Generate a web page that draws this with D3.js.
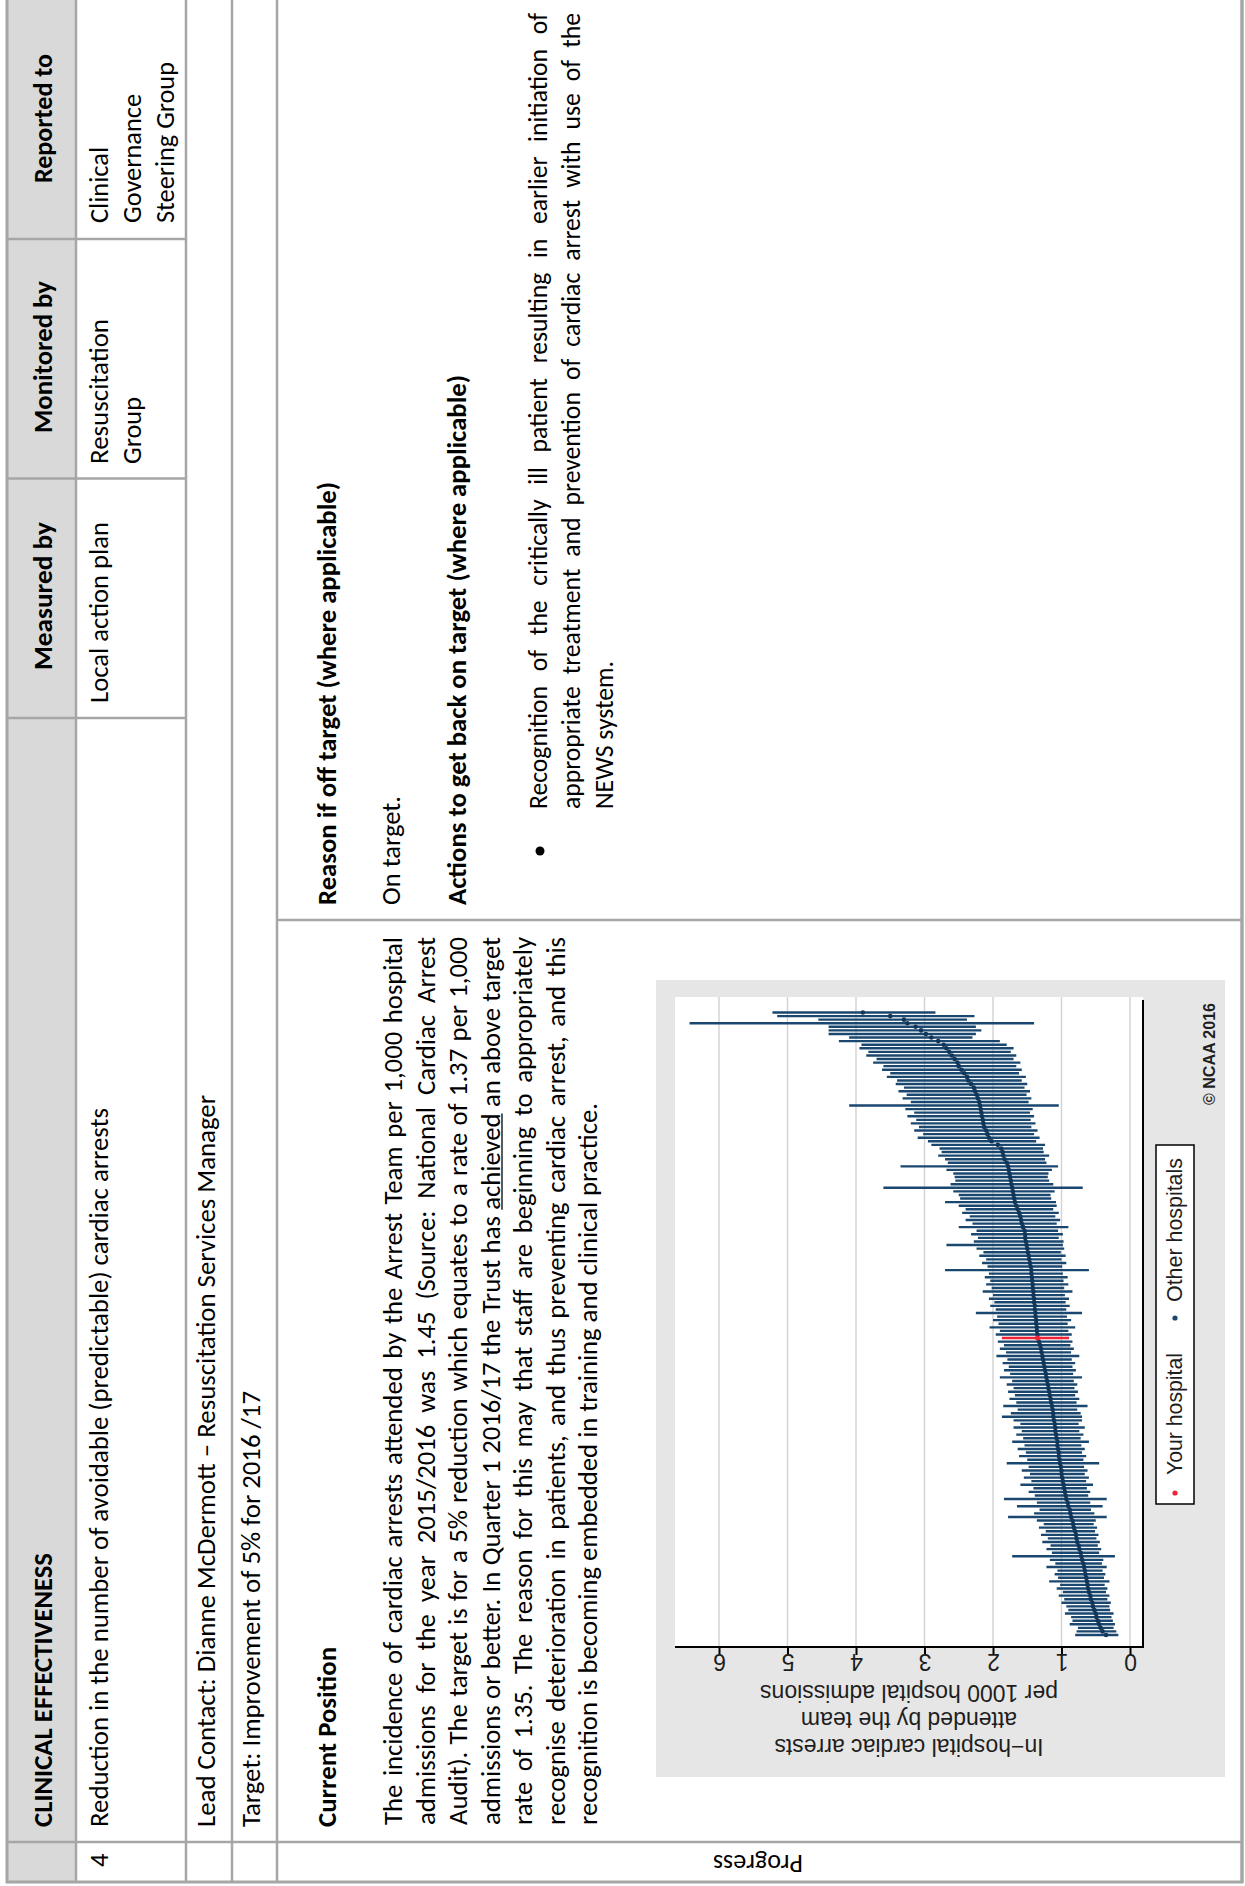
<!DOCTYPE html>
<html>
<head>
<meta charset="utf-8">
<script src="https://cdn.jsdelivr.net/npm/d3@7"></script>
<style>
  html, body { margin: 0; padding: 0; background: #fff; }
  svg { display: block; }
</style>
</head>
<body>
<svg id="page" width="1245" height="1886"></svg>
<script>
// ---- Caterpillar data: hospitals ranked by rate (per 1000 admissions) with 95% CI ----
const rate = [
  0.35,0.40,0.43,0.45,0.47,0.49,0.50,0.52,0.54,0.55,
  0.57,0.58,0.60,0.61,0.62,0.63,0.64,0.65,0.66,0.67,
  0.68,0.70,0.71,0.72,0.74,0.75,0.77,0.78,0.79,0.80,
  0.82,0.83,0.84,0.86,0.87,0.88,0.90,0.91,0.93,0.94,
  0.95,0.96,0.97,0.98,0.99,1.00,1.00,1.01,1.02,1.03,
  1.04,1.04,1.05,1.06,1.06,1.07,1.08,1.09,1.09,1.10,
  1.11,1.12,1.12,1.13,1.14,1.15,1.16,1.17,1.18,1.19,
  1.20,1.21,1.22,1.23,1.24,1.25,1.26,1.27,1.28,1.29,
  1.30,1.31,1.33,1.35,1.35,1.36,1.36,1.37,1.37,1.38,
  1.38,1.39,1.39,1.40,1.40,1.41,1.41,1.42,1.42,1.43,
  1.43,1.44,1.44,1.45,1.46,1.47,1.48,1.49,1.50,1.51,
  1.52,1.53,1.53,1.54,1.56,1.58,1.59,1.60,1.62,1.64,
  1.66,1.68,1.69,1.70,1.71,1.72,1.73,1.74,1.75,1.76,
  1.77,1.78,1.80,1.83,1.85,1.86,1.88,1.93,2.02,2.06,
  2.08,2.10,2.13,2.14,2.15,2.16,2.17,2.18,2.19,2.20,
  2.22,2.24,2.26,2.28,2.32,2.36,2.38,2.42,2.46,2.50,
  2.52,2.56,2.60,2.64,2.68,2.72,2.80,2.90,2.98,3.05,
  3.13,3.25,3.30,3.50,3.90
];
const lower = [
  0.17,0.20,0.24,0.22,0.25,0.27,0.24,0.29,0.30,0.28,
  0.33,0.30,0.35,0.33,0.37,0.30,0.38,0.36,0.40,0.34,
  0.41,0.39,0.22,0.45,0.42,0.47,0.44,0.49,0.46,0.51,
  0.48,0.53,0.50,0.34,0.52,0.57,0.40,0.58,0.34,0.61,
  0.58,0.63,0.54,0.64,0.60,0.66,0.62,0.67,0.45,0.68,
  0.64,0.70,0.66,0.71,0.60,0.72,0.68,0.74,0.66,0.75,
  0.70,0.70,0.72,0.77,0.62,0.78,0.74,0.80,0.76,0.81,
  0.77,0.82,0.70,0.83,0.79,0.84,0.80,0.85,0.74,0.86,
  0.82,0.87,0.84,0.89,0.85,0.90,0.80,0.91,0.86,0.92,
  0.70,0.93,0.88,0.94,0.89,0.95,0.84,0.96,0.90,0.97,
  0.91,0.98,0.60,0.99,0.93,1.00,0.94,1.01,0.96,0.98,
  0.97,1.04,0.98,1.05,0.90,1.07,1.02,1.09,1.04,1.12,
  1.07,1.08,1.15,1.16,1.10,0.69,1.12,1.18,1.20,1.19,
  1.14,1.05,1.22,1.24,1.18,1.26,1.27,1.24,1.37,1.32,
  1.40,1.35,1.44,1.38,1.45,1.40,1.46,1.42,1.04,1.48,
  1.44,1.51,1.46,1.54,1.50,1.58,1.52,1.62,1.58,1.66,
  1.60,1.70,1.66,1.74,1.70,1.80,1.90,2.30,2.25,2.17,
  2.25,1.40,2.38,2.27,2.84
];
const upper = [
  0.80,0.78,0.76,0.88,0.84,0.86,0.95,0.90,0.93,1.00,
  0.96,1.04,0.98,1.07,1.02,1.18,1.05,1.10,1.06,1.22,
  1.09,1.17,1.72,1.14,1.22,1.16,1.28,1.20,1.30,1.23,
  1.33,1.26,1.36,1.78,1.40,1.32,1.65,1.36,1.84,1.39,
  1.48,1.41,1.60,1.44,1.55,1.46,1.58,1.48,1.80,1.50,
  1.62,1.52,1.64,1.54,1.72,1.56,1.66,1.58,1.70,1.60,
  1.70,1.87,1.74,1.64,1.85,1.66,1.76,1.68,1.78,1.70,
  1.80,1.72,1.90,1.75,1.84,1.77,1.86,1.79,1.95,1.81,
  1.90,1.84,1.93,1.87,1.96,1.90,2.05,1.92,2.00,1.94,
  2.25,1.96,2.04,1.98,2.06,2.00,2.15,2.02,2.10,2.04,
  2.12,2.06,2.70,2.08,2.16,2.10,2.20,2.14,2.24,2.68,
  2.28,2.22,2.32,2.24,2.50,2.30,2.40,2.34,2.45,2.40,
  2.50,2.70,2.48,2.50,2.58,3.60,2.62,2.55,2.56,2.58,
  2.68,3.35,2.66,2.70,2.80,2.75,2.78,2.90,2.95,3.10,
  3.02,3.15,3.08,3.20,3.12,3.25,3.15,3.28,4.10,3.20,
  3.32,3.26,3.38,3.30,3.42,3.40,3.55,3.50,3.62,3.60,
  3.75,3.70,3.85,3.82,3.95,3.92,4.25,4.10,4.40,4.40,
  4.40,6.43,4.55,5.15,5.22
];
const yourHospital = 83;            // rank position of the Trust
const yTicks = [0, 1, 2, 3, 4, 5, 6];
const yTitle = ["In\u2212hospital cardiac arrests", "attended by the team", "per 1000 hospital admissions"];
const legendLabels = ["Your hospital", "Other hospitals"];

// ---- Report text ----
const paragraph = [
  "The incidence of cardiac arrests attended by the Arrest Team per 1,000 hospital",
  "admissions for the year 2015/2016 was 1.45 (Source: National Cardiac Arrest",
  "Audit). The target is for a 5% reduction which equates to a rate of 1.37 per 1,000",
  "admissions or better. In Quarter 1 2016/17 the Trust has achieved an above target",
  "rate of 1.35. The reason for this may that staff are beginning to appropriately",
  "recognise deterioration in patients, and thus preventing cardiac arrest, and this",
  "recognition is becoming embedded in training and clinical practice."
];
const bullet = [
  "Recognition of the critically ill patient resulting in earlier initiation of",
  "appropriate treatment and prevention of cardiac arrest with use of the",
  "NEWS system."
];

const BODY = "Carlito, Lato, 'Open Sans', sans-serif";
const CHART = "'Liberation Sans', Arial, Helvetica, sans-serif";
const RULE = "#a6a6a6";
const NAVY = "#1a476f";
const RED = "#ef2238";

const W = 1245, H = 1886;
const svg = d3.select("#page");
svg.append("rect").attr("width", W).attr("height", H).attr("fill", "#fff");

// The report page is laid out in landscape and turned a quarter turn.
const page = svg.append("g").attr("transform", `translate(0,${H}) rotate(-90)`);

function put(parent, str, x, y, opt = {}) {
  const t = parent.append("text")
    .attr("x", x).attr("y", y)
    .attr("font-family", opt.family || BODY)
    .attr("font-size", opt.size || 26.5)
    .attr("font-weight", opt.weight || 400)
    .attr("fill", opt.fill || "#000")
    .text(str);
  if (opt.anchor) t.attr("text-anchor", opt.anchor);
  if (opt.width) t.attr("textLength", opt.width).attr("lengthAdjust", "spacingAndGlyphs");
  return t;
}

function naturalWidth(parent, str, opt = {}) {
  const t = put(parent, str, 0, -100, opt);
  const w = t.node().getComputedTextLength();
  t.remove();
  return w;
}

// justified line: word widths scaled, spare room shared between the gaps
function justify(parent, str, x, y, width, scale, opt = {}) {
  const words = str.split(" ");
  const nodes = words.map(w => put(parent, w, x, y, opt));
  const widths = nodes.map(n => n.node().getComputedTextLength() * scale);
  const gap = (width - d3.sum(widths)) / (words.length - 1);
  let cx = x;
  nodes.forEach((n, i) => {
    n.attr("x", cx).attr("textLength", widths[i]).attr("lengthAdjust", "spacingAndGlyphs");
    cx += widths[i] + gap;
  });
  return nodes;
}

// ---- Table shading and rules ----
page.append("rect").attr("x", 4).attr("y", 7).attr("width", 1900).attr("height", 69).attr("fill", "#d9d9d9");

const rules = page.append("g").attr("stroke", RULE).attr("fill", "none");
[[76, 2.5], [186, 2.5], [232, 2.5], [277, 2.5]].forEach(([yy, sw]) =>
  rules.append("line").attr("x1", 4).attr("x2", 1900).attr("y1", yy).attr("y2", yy).attr("stroke-width", sw));
rules.append("line").attr("x1", 3).attr("x2", 1900).attr("y1", 7).attr("y2", 7).attr("stroke-width", 3);
rules.append("line").attr("x1", 3).attr("x2", 1900).attr("y1", 1242).attr("y2", 1242).attr("stroke-width", 3.5);
rules.append("line").attr("x1", 4).attr("x2", 4).attr("y1", 6).attr("y2", 1243).attr("stroke-width", 3);
rules.append("line").attr("x1", 44).attr("x2", 44).attr("y1", 7).attr("y2", 1242).attr("stroke-width", 2.5);
[1168, 1407.5, 1647].forEach(xx =>
  rules.append("line").attr("x1", xx).attr("x2", xx).attr("y1", 7).attr("y2", 186).attr("stroke-width", 2.5));
rules.append("line").attr("x1", 966).attr("x2", 966).attr("y1", 277).attr("y2", 1242).attr("stroke-width", 2.5);

// ---- Header row ----
put(page, "CLINICAL EFFECTIVENESS", 59, 52, { weight: 700, width: 274 });
put(page, "Measured by", 1216, 52, { weight: 700, width: 148 });
put(page, "Monitored by", 1453, 52, { weight: 700, width: 152 });
put(page, "Reported to", 1703, 52, { weight: 700, width: 129 });

// ---- Indicator row ----
put(page, "4", 19, 108);
put(page, "Reduction in the number of avoidable (predictable) cardiac arrests", 59, 108, { width: 719 });
put(page, "Local action plan", 1183, 108, { width: 181 });
put(page, "Resuscitation", 1422, 108, { width: 145 });
put(page, "Group", 1422, 141, { width: 67 });
put(page, "Clinical", 1663, 108, { width: 76 });
put(page, "Governance", 1663, 141, { width: 129 });
put(page, "Steering Group", 1663, 174, { width: 161 });

put(page, "Lead Contact: Dianne McDermott \u2013 Resuscitation Services Manager", 59, 215, { width: 732 });
put(page, "Target: Improvement of 5% for 2016 /17", 59, 260, { width: 436 });

// ---- Progress label column ----
page.append("text")
  .attr("transform", "translate(31,758) rotate(-90)")
  .attr("text-anchor", "middle")
  .attr("font-family", BODY).attr("font-size", 26.5)
  .attr("textLength", 90).attr("lengthAdjust", "spacingAndGlyphs")
  .text("Progress");

// ---- Current position ----
put(page, "Current Position", 59, 336, { weight: 700, width: 180 });
const pScale = 722 / naturalWidth(page, paragraph[6]);
paragraph.forEach((line, k) => {
  const yy = 402 + 32.5 * k;
  if (k === paragraph.length - 1) {
    put(page, line, 61, yy, { width: 722 });
  } else {
    const nodes = justify(page, line, 61, yy, 888, pScale);
    nodes.forEach(n => {
      if (n.text() === "achieved") {
        const x0 = +n.attr("x"), w = +n.attr("textLength");
        page.append("line").attr("x1", x0).attr("x2", x0 + w)
          .attr("y1", yy + 2.5).attr("y2", yy + 2.5)
          .attr("stroke", "#000").attr("stroke-width", 1.3);
      }
    });
  }
});

// ---- Reason / actions ----
put(page, "Reason if off target (where applicable)", 981, 336, { weight: 700, width: 423 });
put(page, "On target.", 981, 400, { width: 109 });
put(page, "Actions to get back on target (where applicable)", 981, 466, { weight: 700, width: 530 });
page.append("circle").attr("cx", 1035).attr("cy", 540).attr("r", 4.5).attr("fill", "#000");
const bScale = 148 / naturalWidth(page, bullet[2]);
bullet.forEach((line, k) => {
  const yy = 547 + 33 * k;
  if (k === bullet.length - 1) put(page, line, 1077, yy, { width: 148 });
  else justify(page, line, 1077, yy, 796, bScale);
});

// ---- Caterpillar chart ----
const chart = page.append("g");
chart.append("rect").attr("x", 109).attr("y", 656).attr("width", 797).attr("height", 569).attr("fill", "#e6e6e6");
chart.append("rect").attr("x", 239).attr("y", 675).attr("width", 650).attr("height", 468).attr("fill", "#fff");

const x = d3.scaleLinear().domain([0, rate.length - 1]).range([251, 873.5]);
const y = d3.scaleLinear().domain([0, 6]).range([1130, 719]);

chart.append("g").selectAll("line").data(yTicks).join("line")
  .attr("x1", 239).attr("x2", 889)
  .attr("y1", d => y(d)).attr("y2", d => y(d))
  .attr("stroke", "#d2d2d2").attr("stroke-width", 1.4);

const ranks = d3.range(rate.length);
const others = ranks.filter(i => i !== yourHospital);

chart.append("g").selectAll("line").data(others).join("line")
  .attr("x1", i => x(i)).attr("x2", i => x(i))
  .attr("y1", i => y(lower[i])).attr("y2", i => y(upper[i]))
  .attr("stroke", NAVY).attr("stroke-width", 2.4);

chart.append("g").selectAll("circle").data(others).join("circle")
  .attr("cx", i => x(i)).attr("cy", i => y(rate[i])).attr("r", 2.3)
  .attr("fill", "#10365a");

chart.append("line")
  .attr("x1", x(yourHospital)).attr("x2", x(yourHospital))
  .attr("y1", y(lower[yourHospital])).attr("y2", y(upper[yourHospital]))
  .attr("stroke", RED).attr("stroke-width", 2.4);
chart.append("circle")
  .attr("cx", x(yourHospital)).attr("cy", y(rate[yourHospital])).attr("r", 2.5)
  .attr("fill", RED);

// y axis with vertical tick labels
const yAxis = chart.append("g").attr("transform", "translate(239,0)")
  .call(d3.axisLeft(y).tickValues(yTicks).tickFormat(d3.format("d")).tickSize(8).tickSizeOuter(0));
yAxis.select(".domain").remove();
yAxis.selectAll(".tick line").attr("stroke", "#000").attr("stroke-width", 2);
yAxis.selectAll(".tick text")
  .attr("x", null).attr("dy", null)
  .attr("transform", "translate(-7,0) rotate(-90)")
  .attr("text-anchor", "middle")
  .attr("font-family", CHART).attr("font-size", 23).attr("fill", "#1e1e1e");

chart.append("line").attr("x1", 239).attr("x2", 239).attr("y1", 675).attr("y2", 1144)
  .attr("stroke", "#000").attr("stroke-width", 2);
chart.append("line").attr("x1", 238).attr("x2", 886).attr("y1", 1143).attr("y2", 1143)
  .attr("stroke", "#000").attr("stroke-width", 2);

yTitle.forEach((line, k) => {
  chart.append("text")
    .attr("transform", `translate(${147 + 27 * k},909) rotate(-90)`)
    .attr("text-anchor", "middle")
    .attr("font-family", CHART).attr("font-size", 23).attr("fill", "#1e1e1e")
    .text(line);
});

// legend
const legend = chart.append("g");
legend.append("rect").attr("x", 382).attr("y", 1156).attr("width", 359).attr("height", 38)
  .attr("fill", "#fff").attr("stroke", "#000").attr("stroke-width", 1.5);
legend.append("circle").attr("cx", 393).attr("cy", 1175).attr("r", 2.6).attr("fill", RED);
put(legend, legendLabels[0], 411, 1182, { family: CHART, size: 21.5, width: 122, fill: "#1e1e1e" });
legend.append("circle").attr("cx", 568).attr("cy", 1175).attr("r", 2.6).attr("fill", NAVY);
put(legend, legendLabels[1], 584, 1182, { family: CHART, size: 21.5, width: 144, fill: "#1e1e1e" });

put(chart, "\u00A9 NCAA 2016", 781, 1215, { family: CHART, size: 16, weight: 700, width: 102, fill: "#1e1e1e" });
</script>
</body>
</html>
